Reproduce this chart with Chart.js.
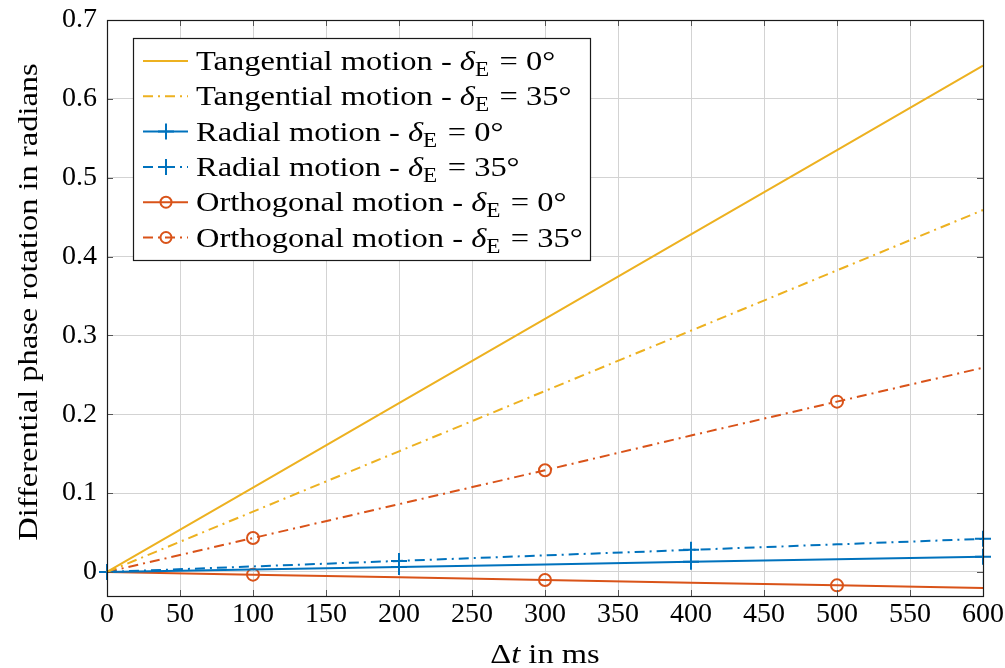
<!DOCTYPE html>
<html>
<head>
<meta charset="utf-8">
<script src="https://cdn.jsdelivr.net/npm/chart.js@4.4.1/dist/chart.umd.min.js"></script>
<style>
  html, body { margin: 0; padding: 0; background: #ffffff; }
  #wrap { width: 1005px; height: 668px; position: relative; }
</style>
</head>
<body>
<div id="wrap"><canvas id="chart" width="1005" height="668"></canvas></div>
<script>
// Time offsets (ms) at which each curve is sampled
const deltaT = [0, 100, 200, 300, 400, 500, 600];

// Differential phase rotation (rad) per motion type and elevation angle
const tangential0  = [0, 0.107, 0.214, 0.321, 0.428, 0.535, 0.642];
const tangential35 = [0, 0.0765, 0.153, 0.2295, 0.306, 0.3825, 0.459];
const radial0      = [0, 0.0032, 0.0064, 0.0096, 0.0128, 0.016, 0.0192];
const radial35     = [0, 0.007, 0.014, 0.021, 0.028, 0.035, 0.042];
const orthogonal0  = [0, -0.0034, -0.0068, -0.0102, -0.0136, -0.017, -0.0204];
const orthogonal35 = [0, 0.043, 0.086, 0.129, 0.173, 0.216, 0.259];

// Axis ticks
const xTicks = [0, 50, 100, 150, 200, 250, 300, 350, 400, 450, 500, 550, 600];
const yTicks = [0, 0.1, 0.2, 0.3, 0.4, 0.5, 0.6, 0.7];

// Legend entries: label head, angle value
const legendNames  = ['Tangential motion - ', 'Tangential motion - ', 'Radial motion - ', 'Radial motion - ', 'Orthogonal motion - ', 'Orthogonal motion - '];
const legendAngles = ['0°', '35°', '0°', '35°', '0°', '35°'];

const YELLOW = '#EDB120';
const BLUE = '#0072BD';
const ORANGE = '#D95319';
const DASHDOT = [10, 5, 2, 5];
const SERIF = '"Liberation Serif", "DejaVu Serif", serif';
const STRETCH = 1.16; // wider letterforms for the text runs

function pts(ys) { return deltaT.map((x, i) => ({ x: x, y: ys[i] })); }

const plusRadii = [8, 0, 8, 0, 8, 0, 8];
const circleRadii = [0, 6, 0, 6, 0, 6, 0];

const datasets = [
  { data: pts(tangential0), borderColor: YELLOW, borderWidth: 2, pointRadius: 0, legendMark: null },
  { data: pts(tangential35), borderColor: YELLOW, borderWidth: 2, borderDash: DASHDOT, pointRadius: 0, legendMark: null },
  { data: pts(radial0), borderColor: BLUE, borderWidth: 2, pointStyle: 'cross', pointRadius: plusRadii, pointBorderWidth: 2, pointBorderColor: BLUE, legendMark: 'cross' },
  { data: pts(radial35), borderColor: BLUE, borderWidth: 2, borderDash: DASHDOT, pointStyle: 'cross', pointRadius: plusRadii, pointBorderWidth: 2, pointBorderColor: BLUE, legendMark: 'cross' },
  { data: pts(orthogonal0), borderColor: ORANGE, borderWidth: 2, pointStyle: 'circle', pointRadius: circleRadii, pointBorderWidth: 2, pointBorderColor: ORANGE, pointBackgroundColor: 'rgba(0,0,0,0)', legendMark: 'circle' },
  { data: pts(orthogonal35), borderColor: ORANGE, borderWidth: 2, borderDash: DASHDOT, pointStyle: 'circle', pointRadius: circleRadii, pointBorderWidth: 2, pointBorderColor: ORANGE, pointBackgroundColor: 'rgba(0,0,0,0)', legendMark: 'circle' }
].map(d => Object.assign({ fill: false, tension: 0, clip: false, pointHoverRadius: 0 }, d));

// draws a sequence of [text, font, dy, dx] runs starting at x, stretched horizontally
function drawRuns(ctx, runs, x, y) {
  ctx.save();
  ctx.translate(x, y);
  ctx.scale(STRETCH, 1);
  let cx = 0;
  runs.forEach(r => {
    ctx.font = r[1];
    ctx.fillText(r[0], cx + (r[3] || 0), r[2] || 0);
    cx += ctx.measureText(r[0]).width + (r[3] || 0);
  });
  ctx.restore();
  return cx * STRETCH;
}
function runsWidth(ctx, runs) {
  let w = 0;
  runs.forEach(r => { ctx.font = r[1]; w += ctx.measureText(r[0]).width + (r[3] || 0); });
  return w * STRETCH;
}

// Frame, inward ticks, axis titles and the boxed legend
const decorations = {
  id: 'decorations',
  afterDatasetsDraw(chart) {
    const ctx = chart.ctx;
    const a = chart.chartArea;
    const xs = chart.scales.x, ys = chart.scales.y;
    ctx.save();
    // inward tick marks on all four sides
    ctx.strokeStyle = '#555555';
    ctx.lineWidth = 1;
    const L = 6;
    ctx.beginPath();
    xTicks.forEach(v => {
      const px = Math.round(xs.getPixelForValue(v)) + 0.5;
      ctx.moveTo(px, a.bottom); ctx.lineTo(px, a.bottom - L);
      ctx.moveTo(px, a.top); ctx.lineTo(px, a.top + L);
    });
    yTicks.forEach(v => {
      const py = Math.round(ys.getPixelForValue(v)) + 0.5;
      ctx.moveTo(a.left, py); ctx.lineTo(a.left + L, py);
      ctx.moveTo(a.right, py); ctx.lineTo(a.right - L, py);
    });
    ctx.stroke();
    // frame
    ctx.strokeStyle = '#1a1a1a';
    ctx.lineWidth = 1.2;
    ctx.strokeRect(Math.round(a.left) + 0.5, Math.round(a.top) + 0.5, Math.round(a.right - a.left), Math.round(a.bottom - a.top));

    // axis titles
    ctx.fillStyle = '#000000';
    ctx.textBaseline = 'alphabetic';
    ctx.textAlign = 'left';
    const yRuns = [['Differential phase rotation in radians', '28px ' + SERIF]];
    ctx.save();
    ctx.translate(37, (a.top + a.bottom) / 2 - 6);
    ctx.rotate(-Math.PI / 2);
    drawRuns(ctx, yRuns, -runsWidth(ctx, yRuns) / 2, 0);
    ctx.restore();

    const xRuns = [['Δ', '28px ' + SERIF], ['t', 'italic 28px ' + SERIF], [' in ms', '28px ' + SERIF]];
    drawRuns(ctx, xRuns, (a.left + a.right) / 2 - runsWidth(ctx, xRuns) / 2, 663);

    // legend box
    const bx = 133.5, by = 38.5, bw = 457, bh = 222;
    ctx.fillStyle = '#ffffff';
    ctx.fillRect(bx, by, bw, bh);
    ctx.strokeStyle = '#1a1a1a';
    ctx.lineWidth = 1.2;
    ctx.strokeRect(bx, by, bw, bh);

    const rowH = 35.3;
    chart.data.datasets.forEach((ds, i) => {
      const cy = 61 + i * rowH;
      ctx.save();
      ctx.strokeStyle = ds.borderColor;
      ctx.lineWidth = 2;
      ctx.setLineDash(ds.borderDash || []);
      ctx.beginPath();
      ctx.moveTo(143, cy); ctx.lineTo(188, cy);
      ctx.stroke();
      ctx.setLineDash([]);
      if (ds.legendMark === 'cross') {
        ctx.beginPath();
        ctx.moveTo(158, cy); ctx.lineTo(174, cy);
        ctx.moveTo(166, cy - 8); ctx.lineTo(166, cy + 8);
        ctx.stroke();
      } else if (ds.legendMark === 'circle') {
        ctx.beginPath();
        ctx.arc(166, cy, 5.5, 0, Math.PI * 2);
        ctx.stroke();
      }
      ctx.restore();

      ctx.fillStyle = '#000000';
      const runs = [
        [legendNames[i], '28px ' + SERIF],
        ['δ', 'italic 28px ' + SERIF],
        ['E', '20px ' + SERIF, 6],
        [' = ' + legendAngles[i], '28px ' + SERIF, 0, 2]
      ];
      drawRuns(ctx, runs, 196, cy + 9);
    });
    ctx.restore();
  }
};

new Chart(document.getElementById('chart'), {
  type: 'line',
  data: { datasets: datasets },
  plugins: [decorations],
  options: {
    responsive: false,
    animation: false,
    events: [],
    layout: { padding: { top: 20, right: 22, left: 0, bottom: 0 } },
    plugins: { legend: { display: false }, tooltip: { enabled: false } },
    scales: {
      x: {
        type: 'linear',
        min: 0, max: 600,
        afterBuildTicks: s => { s.ticks = xTicks.map(v => ({ value: v })); },
        afterFit: s => { s.height = 72; s.paddingLeft = 0; s.paddingRight = 0; },
        grid: { color: '#d3d3d3', lineWidth: 1, drawTicks: false },
        border: { display: false },
        ticks: { color: '#000000', font: { family: SERIF, size: 28 }, padding: 2, maxRotation: 0, autoSkip: false, callback: v => String(v) }
      },
      y: {
        type: 'linear',
        min: -0.0305, max: 0.7,
        afterBuildTicks: s => { s.ticks = yTicks.map(v => ({ value: v })); },
        afterFit: s => { s.width = 107; s.paddingTop = 0; s.paddingBottom = 0; },
        grid: { color: '#d3d3d3', lineWidth: 1, drawTicks: false },
        border: { display: false },
        ticks: { color: '#000000', font: { family: SERIF, size: 28 }, padding: 10, autoSkip: false, callback: v => String(Math.round(v * 10) / 10) }
      }
    }
  }
});
</script>
</body>
</html>
